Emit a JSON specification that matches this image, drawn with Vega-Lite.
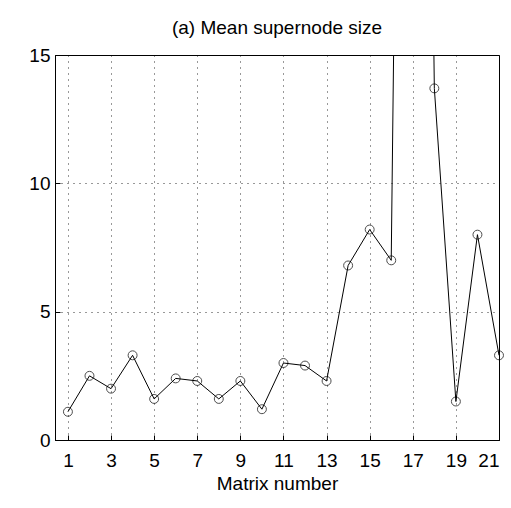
{
  "$schema": "https://vega.github.io/schema/vega-lite/v6.json",
  "width": 444,
  "height": 385,
  "autosize": "none",
  "padding": {"left": 55, "top": 55, "right": 12, "bottom": 68},
  "title": {"text": "(a) Mean supernode size", "fontSize": 19, "font": "Liberation Sans", "fontWeight": "normal", "offset": 8},
  "data": {"values": [
    {"m": 1, "v": 1.1}, {"m": 2, "v": 2.5}, {"m": 3, "v": 2.0}, {"m": 4, "v": 3.3},
    {"m": 5, "v": 1.6}, {"m": 6, "v": 2.4}, {"m": 7, "v": 2.3}, {"m": 8, "v": 1.6},
    {"m": 9, "v": 2.3}, {"m": 10, "v": 1.2}, {"m": 11, "v": 3.0}, {"m": 12, "v": 2.9},
    {"m": 13, "v": 2.3}, {"m": 14, "v": 6.8}, {"m": 15, "v": 8.2}, {"m": 16, "v": 7.0},
    {"m": 17, "v": 80}, {"m": 18, "v": 13.7}, {"m": 19, "v": 1.5}, {"m": 20, "v": 8.0},
    {"m": 21, "v": 3.3}
  ]},
  "encoding": {
    "x": {"field": "m", "type": "quantitative", "scale": {"domain": [0.4, 21], "nice": false, "zero": false},
      "axis": {"values": [1,3,5,7,9,11,13,15,17,19,21], "title": "Matrix number", "labelPadding": 16, "titlePadding": 4}},
    "y": {"field": "v", "type": "quantitative", "scale": {"domain": [0, 15], "nice": false},
      "axis": {"values": [0, 5, 10, 15], "title": null}}
  },
  "layer": [
    {"mark": {"type": "line", "color": "black", "strokeWidth": 1, "clip": true}},
    {"transform": [{"filter": "datum.v <= 15"}],
     "mark": {"type": "point", "shape": "circle", "size": 80, "color": "black", "strokeWidth": 1}}
  ],
  "config": {
    "font": "Liberation Sans",
    "view": {"stroke": "black", "strokeWidth": 1},
    "axis": {
      "labelFont": "Liberation Sans", "labelFontSize": 19, "labelColor": "black",
      "titleFont": "Liberation Sans", "titleFontSize": 19, "titleFontWeight": "normal", "titleColor": "black",
      "gridColor": "black", "gridDash": [1, 5], "gridOpacity": 0.8,
      "domainColor": "black", "tickColor": "black", "tickSize": -5, "labelPadding": 10
    },
    "axisY": {"labelPadding": 10}
  }
}
